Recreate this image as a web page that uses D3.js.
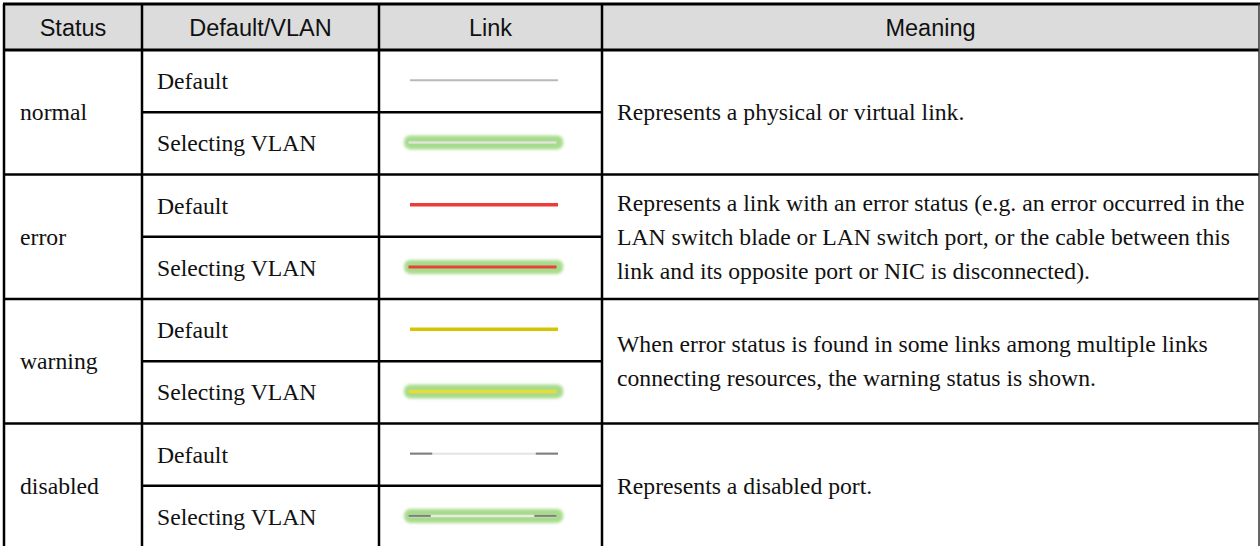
<!DOCTYPE html>
<html>
<head>
<meta charset="utf-8">
<script src="https://cdn.jsdelivr.net/npm/d3@7"></script>
<style>
  html, body { margin: 0; padding: 0; background: #fff; }
  svg { display: block; }
</style>
</head>
<body>
<script>
// ---------------- data ----------------
const headers = ["Status", "Default/VLAN", "Link", "Meaning"];
const statuses = ["normal", "error", "warning", "disabled"];
const modes = ["Default", "Selecting VLAN"];
const meanings = [
  ["Represents a physical or virtual link."],
  ["Represents a link with an error status (e.g. an error occurred in the",
   "LAN switch blade or LAN switch port, or the cable between this",
   "link and its opposite port or NIC is disconnected)."],
  ["When error status is found in some links among multiple links",
   "connecting resources, the warning status is shown."],
  ["Represents a disabled port."]
];

// ---------------- styles ----------------
const linkStyle = {
  normal:   { def: "#b9b9b9", sel: "#dfe3da", defW: 2, selW: 2.5 },
  error:    { def: "#ef3b36", sel: "#e8403a", defW: 3.5, selW: 3 },
  warning:  { def: "#d5c400", sel: "#e8dc3a", defW: 3.5, selW: 3.5 },
  disabled: { def: "#e4e4e4", sel: "#e9ebe0", defW: 2, selW: 2.5, cap: "#7d7d7d" }
};
const glowColor = "#a3da86";

// ---------------- layout ----------------
const W = 1260, H = 546;
const colEdges = [4, 142, 379, 602, 1259];
const headerTop = 4, headerBottom = 50;

const svg = d3.select("body").append("svg").attr("width", W).attr("height", H);

const defs = svg.append("defs");
const f = defs.append("filter").attr("id", "glow")
  .attr("x", "-20%").attr("y", "-150%").attr("width", "140%").attr("height", "400%");
f.append("feGaussianBlur").attr("stdDeviation", 1.8);

// row scale: 8 sub-rows (status x mode)
const rowKeys = [];
statuses.forEach(s => modes.forEach(m => rowKeys.push(s + "|" + m)));
const y = d3.scaleBand().domain(rowKeys).range([headerBottom, 548]).paddingInner(0).paddingOuter(0);
const groupTop = s => y(s + "|" + modes[0]);
const groupBottom = s => y(s + "|" + modes[1]) + y.bandwidth();

// link x scale inside link column
const lx = d3.scaleLinear().domain([0, 1]).range([410, 558]);

// header background
svg.append("rect")
  .attr("x", colEdges[0]).attr("y", headerTop)
  .attr("width", colEdges[4] - colEdges[0]).attr("height", headerBottom - headerTop)
  .attr("fill", "#dcdcdc");

// header text
svg.append("g").selectAll("text").data(headers).join("text")
  .attr("x", (d, i) => (colEdges[i] + colEdges[i + 1]) / 2)
  .attr("y", (headerTop + headerBottom) / 2 + 1)
  .attr("text-anchor", "middle")
  .attr("dominant-baseline", "central")
  .attr("font-family", "'Liberation Sans', Arial, sans-serif")
  .attr("font-size", 23.5)
  .attr("fill", "#111")
  .text(d => d);

const bodyFont = "'Liberation Serif', 'Times New Roman', serif";
const bodySize = 23.7;
const textDy = 0;

// status labels
svg.append("g").selectAll("text").data(statuses).join("text")
  .attr("x", 20)
  .attr("y", d => (groupTop(d) + groupBottom(d)) / 2 + textDy)
  .attr("dominant-baseline", "central")
  .attr("font-family", bodyFont).attr("font-size", bodySize).attr("fill", "#111")
  .text(d => d);

// mode labels
svg.append("g").selectAll("text").data(rowKeys).join("text")
  .attr("x", 157)
  .attr("y", d => y(d) + y.bandwidth() / 2 + textDy)
  .attr("dominant-baseline", "central")
  .attr("font-family", bodyFont).attr("font-size", bodySize).attr("fill", "#111")
  .text(d => d.split("|")[1]);

// meanings
const lineH = 34;
const mg = svg.append("g");
statuses.forEach((s, i) => {
  const lines = meanings[i];
  const cy = (groupTop(s) + groupBottom(s)) / 2 + textDy;
  lines.forEach((t, j) => {
    mg.append("text")
      .attr("x", 617)
      .attr("y", cy + (j - (lines.length - 1) / 2) * lineH)
      .attr("dominant-baseline", "central")
      .attr("font-family", bodyFont).attr("font-size", bodySize).attr("fill", "#111")
      .text(t);
  });
});

// links
const lg = svg.append("g");
rowKeys.forEach(k => {
  const [s, m] = k.split("|");
  const st = linkStyle[s];
  const cy = y(k) + y.bandwidth() / 2 - 1;
  const sel = m === modes[1];
  if (sel) {
    const gx0 = lx(-0.04), gx1 = lx(1.035);
    lg.append("rect")
      .attr("x", gx0).attr("y", cy - 7)
      .attr("width", gx1 - gx0).attr("height", 14)
      .attr("rx", 6).attr("ry", 6)
      .attr("fill", glowColor).attr("opacity", 0.95)
      .attr("filter", "url(#glow)");
  }
  const x0 = sel ? lx(-0.01) : lx(0), x1 = sel ? lx(0.99) : lx(1);
  lg.append("line")
    .attr("x1", x0).attr("x2", x1).attr("y1", cy).attr("y2", cy)
    .attr("stroke", sel ? st.sel : st.def)
    .attr("stroke-width", sel ? st.selW : st.defW);
  if (st.cap) {
    const segL = (x1 - x0) * 0.15;
    [[x0, x0 + segL], [x1 - segL, x1]].forEach(([a, b]) => {
      lg.append("line")
        .attr("x1", a).attr("x2", b).attr("y1", cy).attr("y2", cy)
        .attr("stroke", st.cap).attr("stroke-width", 2);
    });
  }
});

// grid lines
const grid = svg.append("g").attr("stroke", "#000").attr("stroke-width", 2.5);
grid.append("line").attr("x1", colEdges[0] - 1).attr("x2", colEdges[4] + 1)
  .attr("y1", headerTop).attr("y2", headerTop).attr("stroke-width", 3);
grid.append("line").attr("x1", colEdges[0]).attr("x2", colEdges[4])
  .attr("y1", headerBottom).attr("y2", headerBottom).attr("stroke-width", 3);
statuses.slice(1).forEach(s => {
  grid.append("line").attr("x1", colEdges[0]).attr("x2", colEdges[4])
    .attr("y1", groupTop(s)).attr("y2", groupTop(s));
});
statuses.forEach(s => {
  const yy = y(s + "|" + modes[1]);
  grid.append("line").attr("x1", colEdges[1]).attr("x2", colEdges[3])
    .attr("y1", yy).attr("y2", yy);
});
colEdges.forEach((cx, i) => {
  grid.append("line").attr("x1", cx).attr("x2", cx)
    .attr("y1", headerTop).attr("y2", H)
    .attr("stroke", i === 4 ? "#333" : "#000")
    .attr("stroke-width", i === 4 ? 1.5 : 2.5);
});
</script>
</body>
</html>
